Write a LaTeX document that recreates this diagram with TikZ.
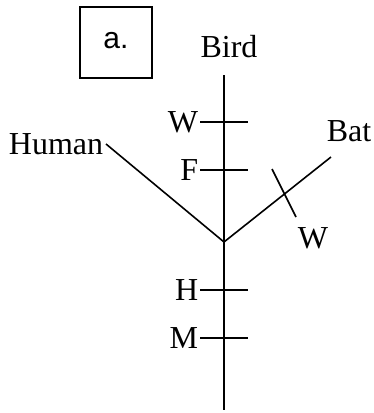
\documentclass[tikz,border=0pt]{standalone}
\usepackage{fontspec}
\setmainfont{Liberation Serif}
\newfontfamily\tagfont{Liberation Sans}
\usetikzlibrary{calc, positioning}

\begin{document}
\begin{tikzpicture}[x=0.5pt, y=-0.5pt, line width=0.8pt,
    lbl/.style={font=\fontsize{16}{18}\selectfont, inner sep=1pt},
    tagbox/.style={draw, minimum width=36pt, minimum height=35.5pt, font=\tagfont\fontsize{15}{17}\selectfont}]
    \useasboundingbox (0,0) rectangle (374,413);
    %Tag
    \node[tagbox] (tag) at (116,42.5) {\raisebox{2pt}{a.}};
    %Main axis
    \node[lbl] (bird) at (229,47) {Bird};
    \coordinate (top) at (224,75);
    \coordinate (root) at (224,242);
    \coordinate (bottom) at (224,410);
    \draw (top) -- (bottom);
    \foreach \y/\t [count=\i] in {122/W, 170/F, 290/H, 338/M}
    {
        \coordinate (tl\i) at (200,\y);
        \coordinate (tr\i) at (248,\y);
        \draw (tl\i) -- (tr\i);
        \node[lbl, anchor=east, inner sep=0.5pt] (t\i) at (tl\i) {\t};
    }
    %Side branches
    \node[lbl, anchor=east] (human) at (106,144) {Human};
    \draw (human.east) -- (root);
    \node[lbl] (bat) at (349,131) {Bat};
    \coordinate (batend) at (331,157);
    \draw (root) -- (batend);
    \coordinate (wa) at (272,169);
    \coordinate (wb) at (296,217);
    \draw (wa) -- (wb);
    \node[lbl] (batw) at (313,238) {W};
\end{tikzpicture}
\end{document}
